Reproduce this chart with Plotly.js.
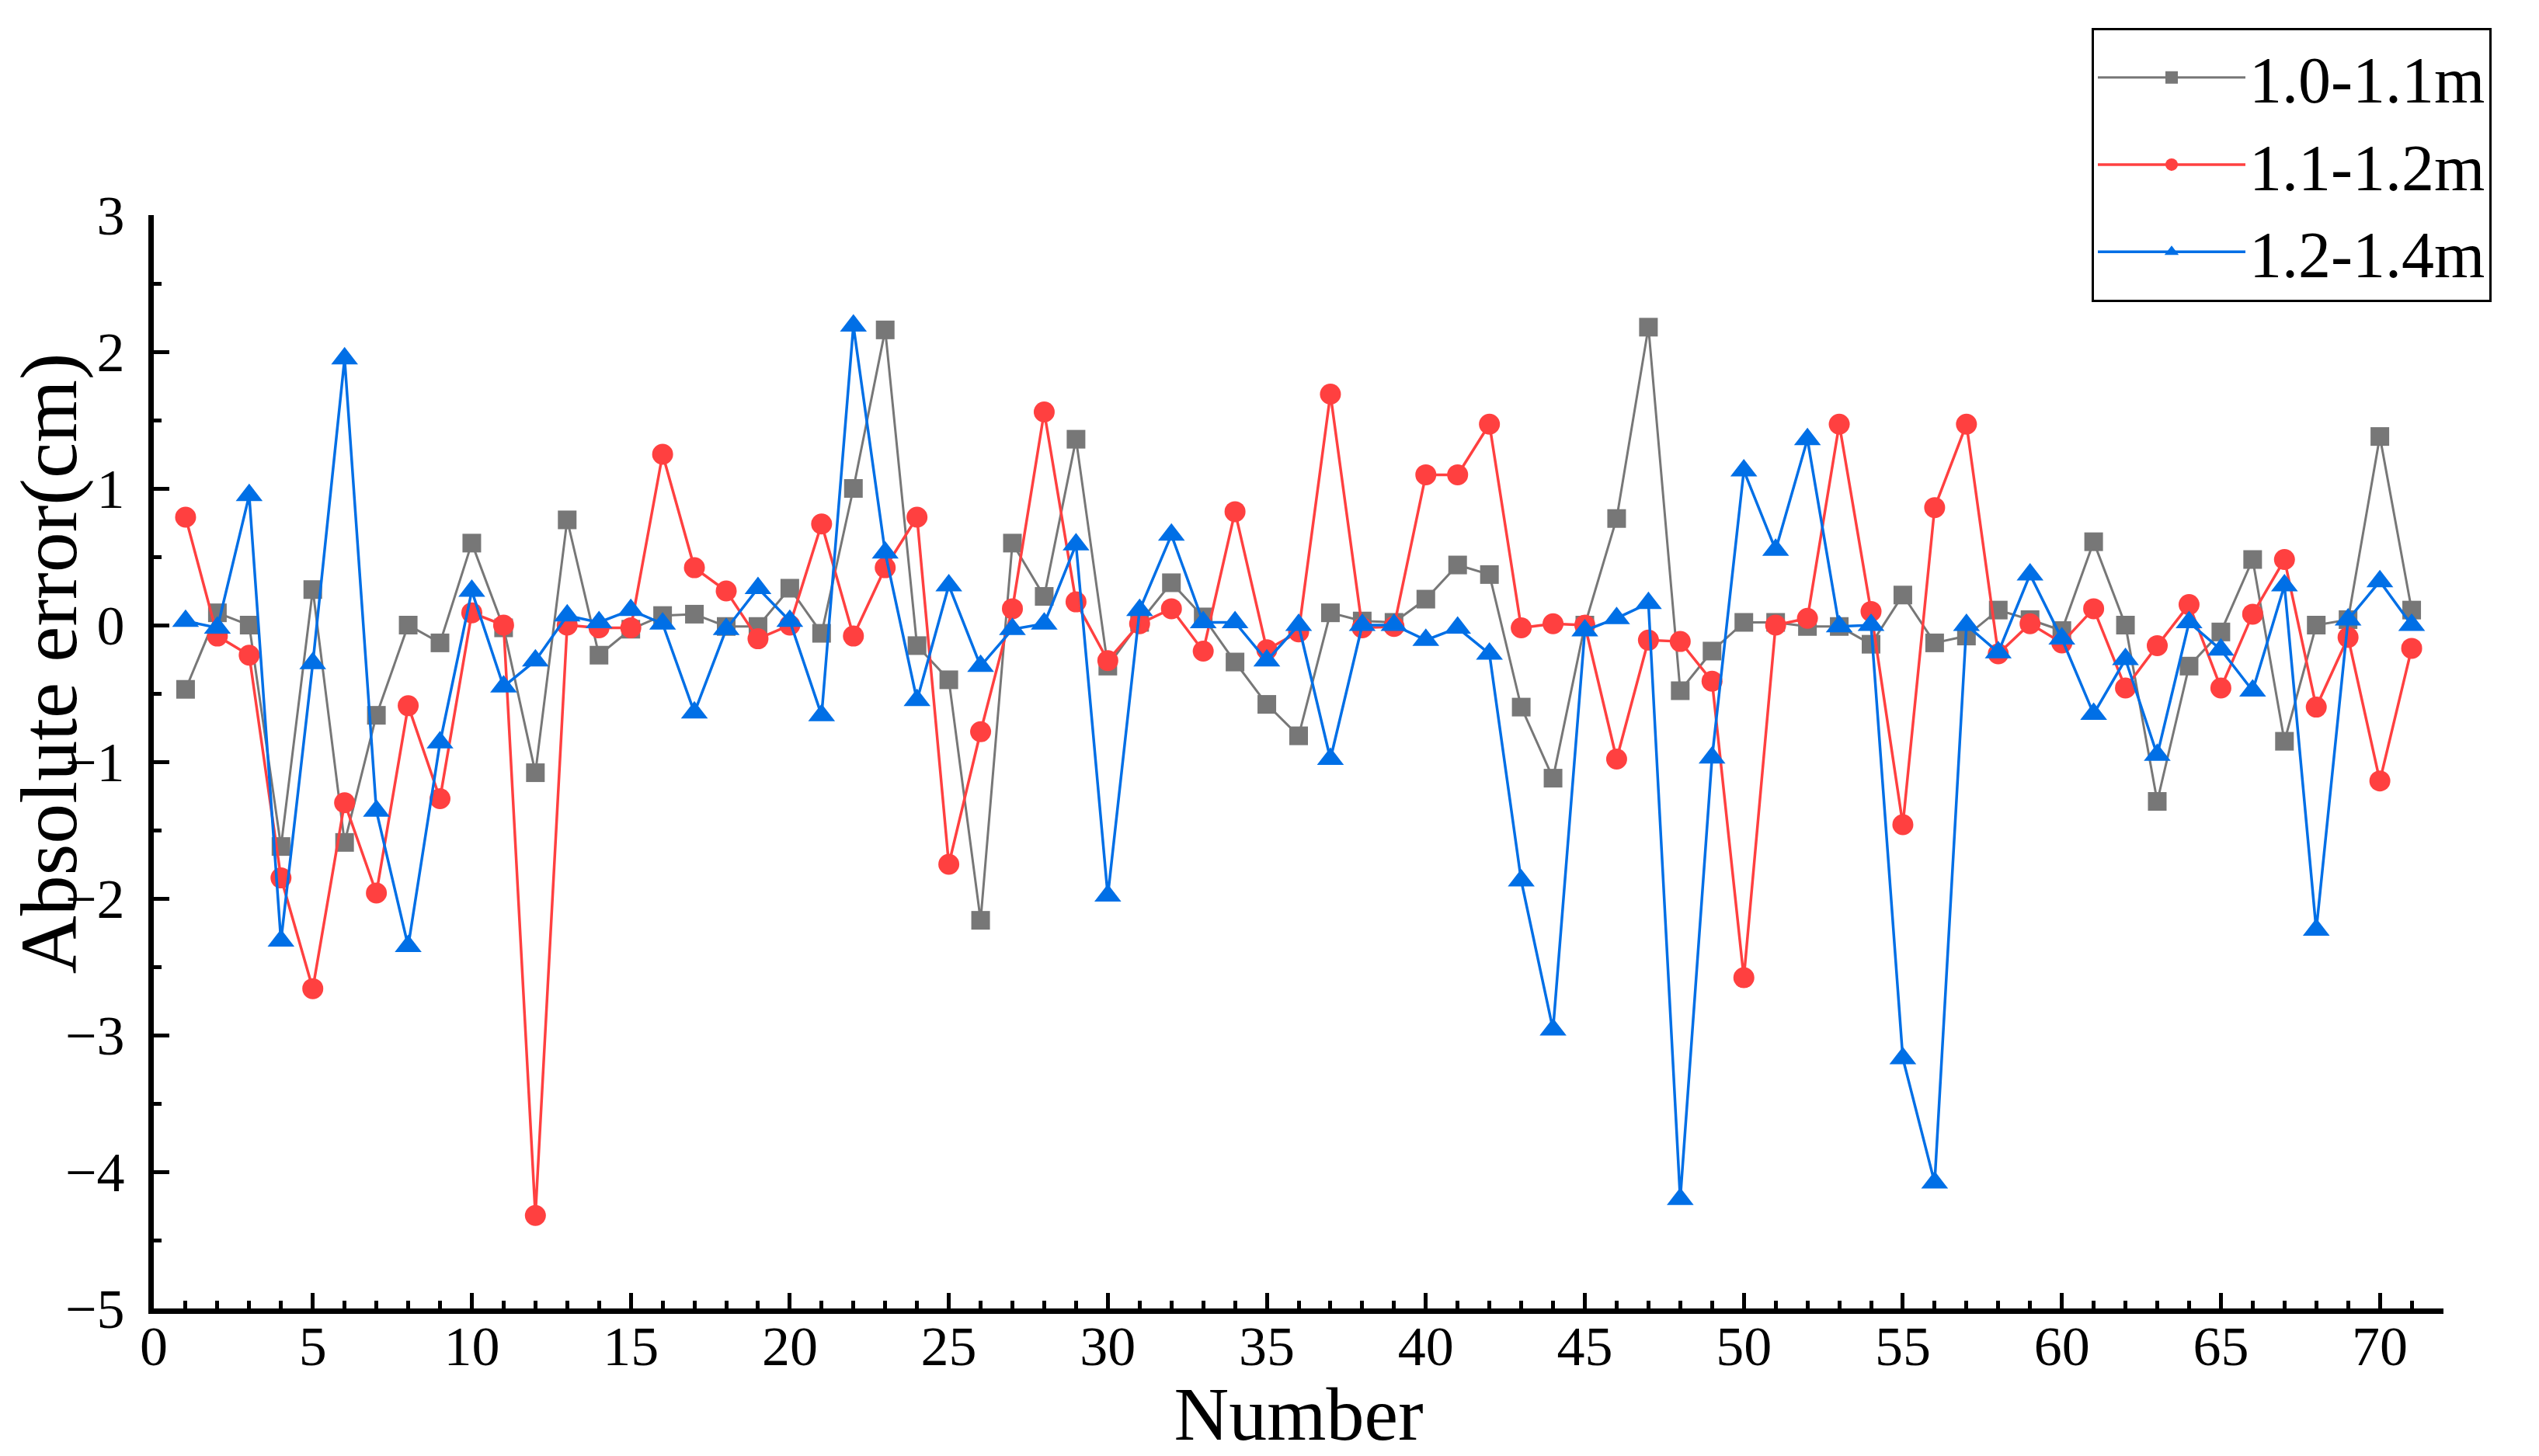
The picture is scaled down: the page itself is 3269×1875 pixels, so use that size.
<!DOCTYPE html>
<html>
<head>
<meta charset="utf-8">
<script src="https://cdn.plot.ly/plotly-3.0.1.min.js"></script>
<style>
  html, body { margin: 0; padding: 0; background: #fff; }
  #chart { width: 3269px; height: 1875px; }
</style>
</head>
<body>
<div id="chart"></div>
<script>
// sample number 1..71
var num = [];
for (var k = 1; k <= 71; k++) num.push(k);

var err10to11 = [
  -0.47, 0.09, 0.00, -1.62, 0.26, -1.59, -0.66, 0.00, -0.13, 0.60,
  -0.02, -1.08, 0.77, -0.22, -0.03, 0.07, 0.08, -0.01, -0.01, 0.27,
  -0.06, 1.00, 2.16, -0.15, -0.40, -2.16, 0.60, 0.21, 1.36, -0.30,
  0.02, 0.31, 0.06, -0.27, -0.58, -0.81, 0.09, 0.03, 0.02, 0.19,
  0.44, 0.37, -0.60, -1.12, 0.00, 0.78, 2.18, -0.48, -0.19, 0.02,
  0.02, -0.01, -0.01, -0.14, 0.22, -0.13, -0.08, 0.11, 0.04, -0.04,
  0.61, 0.00, -1.29, -0.30, -0.05, 0.48, -0.85, 0.00, 0.04, 1.38,
  0.11
];

var err11to12 = [
  0.79, -0.08, -0.22, -1.85, -2.66, -1.30, -1.96, -0.59, -1.27, 0.09,
  0.00, -4.32, 0.00, -0.02, -0.02, 1.25, 0.42, 0.25, -0.10, 0.00,
  0.74, -0.08, 0.42, 0.79, -1.75, -0.78, 0.12, 1.56, 0.17, -0.26,
  0.01, 0.12, -0.19, 0.83, -0.18, -0.05, 1.69, -0.02, -0.01, 1.10,
  1.10, 1.47, -0.02, 0.01, 0.00, -0.98, -0.11, -0.12, -0.41, -2.58,
  0.00, 0.05, 1.47, 0.10, -1.46, 0.86, 1.47, -0.21, 0.01, -0.13,
  0.12, -0.46, -0.15, 0.15, -0.46, 0.08, 0.48, -0.60, -0.09, -1.14,
  -0.17
];

var err12to14 = [
  0.03, -0.02, 0.95, -2.31, -0.28, 1.95, -1.36, -2.35, -0.86, 0.25,
  -0.45, -0.26, 0.07, 0.02, 0.11, 0.01, -0.64, -0.03, 0.27, 0.03,
  -0.66, 2.19, 0.53, -0.55, 0.29, -0.30, -0.03, 0.01, 0.59, -1.98,
  0.11, 0.66, 0.02, 0.02, -0.26, 0.00, -0.98, 0.00, 0.00, -0.11,
  -0.02, -0.21, -1.87, -2.96, -0.04, 0.05, 0.16, -4.20, -0.97, 1.13,
  0.55, 1.36, -0.01, 0.00, -3.17, -4.08, 0.00, -0.20, 0.37, -0.10,
  -0.65, -0.25, -0.95, 0.02, -0.18, -0.48, 0.29, -2.23, 0.04, 0.32,
  0.00
];

var serif = '"Liberation Serif", "Times New Roman", serif';

var a = {
  x: num,
  y: err10to11,
  name: '1.0-1.1m',
  mode: 'lines+markers',
  type: 'scatter',
  line: {color: '#777777', width: 3},
  marker: {symbol: 'square', size: 24, color: '#777777'}
};

var b = {
  x: num,
  y: err11to12,
  name: '1.1-1.2m',
  mode: 'lines+markers',
  type: 'scatter',
  line: {color: '#FF4040', width: 3.5},
  marker: {symbol: 'circle', size: 27, color: '#FF4040'}
};

var c = {
  x: num,
  y: err12to14,
  name: '1.2-1.4m',
  mode: 'lines+markers',
  type: 'scatter',
  line: {color: '#006FE6', width: 3.5},
  marker: {symbol: 'triangle-up', size: 30, color: '#006FE6'}
};

var lay = {
  width: 3269,
  height: 1875,
  paper_bgcolor: 'white',
  plot_bgcolor: 'white',
  margin: {l: 198, r: 123, t: 277, b: 190, pad: 0, autoexpand: false},
  font: {family: serif, color: 'black', size: 72},
  showlegend: true,
  xaxis: {
    range: [0, 72],
    tickmode: 'linear',
    tick0: 0,
    dtick: 5,
    ticks: 'inside',
    ticklen: 20,
    tickwidth: 5,
    tickcolor: 'black',
    minor: {dtick: 1, ticks: 'inside', ticklen: 10, tickwidth: 5, tickcolor: 'black', showgrid: false},
    showline: true,
    linewidth: 7,
    linecolor: 'black',
    showgrid: false,
    zeroline: false,
    ticklabelstandoff: -20,
    tickfont: {size: 72, family: serif},
    title: {text: 'Number', font: {size: 98, family: serif}, standoff: 2}
  },
  yaxis: {
    range: [-5, 3],
    tickmode: 'linear',
    tick0: 0,
    dtick: 1,
    ticks: 'inside',
    ticklen: 20,
    tickwidth: 5,
    tickcolor: 'black',
    minor: {dtick: 0.5, ticks: 'inside', ticklen: 10, tickwidth: 5, tickcolor: 'black', showgrid: false},
    showline: true,
    linewidth: 7,
    linecolor: 'black',
    showgrid: false,
    zeroline: false,
    ticklabelstandoff: 16,
    tickfont: {size: 72, family: serif}
  },
  annotations: [{
    text: 'Absolute error(cm)',
    xref: 'paper', yref: 'paper',
    x: -0.0458, y: 0.59,
    xanchor: 'center', yanchor: 'middle',
    textangle: -90,
    showarrow: false,
    font: {size: 104, family: serif, color: 'black'}
  }],
  legend: {
    xref: 'container', yref: 'container',
    x: 0.8238, y: 0.981,
    xanchor: 'left', yanchor: 'top',
    bgcolor: 'white',
    bordercolor: 'black',
    borderwidth: 3,
    itemwidth: 190,
    tracegroupgap: 0,
    font: {size: 84, family: serif, color: 'black'}
  }
};

var data = [a, b, c];

Plotly.newPlot('chart', data, lay, {displayModeBar: false, staticPlot: true});
</script>
</body>
</html>
